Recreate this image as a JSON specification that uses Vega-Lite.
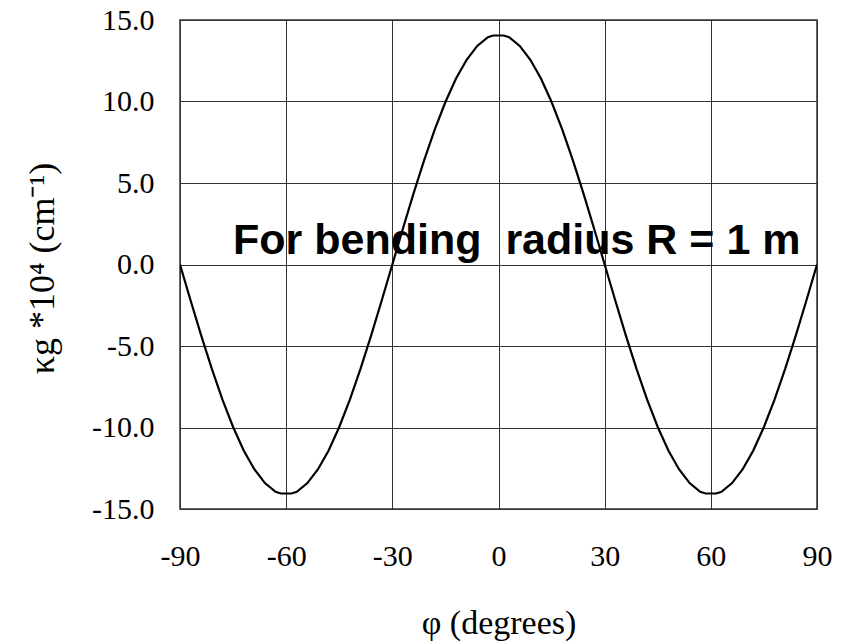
{
  "$schema": "https://vega.github.io/schema/vega-lite/v6.json",
  "autosize": "none",
  "width": 637,
  "height": 489,
  "padding": {"left": 180, "top": 20, "right": 29, "bottom": 135},
  "background": "white",
  "config": {
    "locale": {"number": {"decimal": ".", "thousands": ",", "grouping": [3], "currency": ["$", ""], "minus": "-"}},
    "view": {"stroke": "#333333", "strokeWidth": 1.5},
    "axis": {"labelFont": "Liberation Serif", "titleFont": "Liberation Serif", "labelColor": "black", "titleColor": "black", "gridColor": "#333333", "gridOpacity": 1, "gridWidth": 1, "domain": false, "ticks": false}
  },
  "datasets": {
    "curve": [
      {"phi": -90, "k": 0}, {"phi": -87, "k": -2.21}, {"phi": -84, "k": -4.36}, {"phi": -81, "k": -6.4}, {"phi": -78, "k": -8.29},
      {"phi": -75, "k": -9.97}, {"phi": -72, "k": -11.41}, {"phi": -69, "k": -12.56}, {"phi": -66, "k": -13.41}, {"phi": -63, "k": -13.95},
      {"phi": -61.5, "k": -14.05}, {"phi": -58.5, "k": -14.05}, {"phi": -57, "k": -13.95}, {"phi": -54, "k": -13.41}, {"phi": -51, "k": -12.56},
      {"phi": -48, "k": -11.41}, {"phi": -45, "k": -9.97}, {"phi": -42, "k": -8.29}, {"phi": -39, "k": -6.4}, {"phi": -36, "k": -4.36},
      {"phi": -33, "k": -2.21}, {"phi": -30, "k": 0}, {"phi": -27, "k": 2.21}, {"phi": -24, "k": 4.36}, {"phi": -21, "k": 6.4},
      {"phi": -18, "k": 8.29}, {"phi": -15, "k": 9.97}, {"phi": -12, "k": 11.41}, {"phi": -9, "k": 12.56}, {"phi": -6, "k": 13.41},
      {"phi": -3, "k": 13.95}, {"phi": -1.5, "k": 14.05}, {"phi": 1.5, "k": 14.05}, {"phi": 3, "k": 13.95}, {"phi": 6, "k": 13.41},
      {"phi": 9, "k": 12.56}, {"phi": 12, "k": 11.41}, {"phi": 15, "k": 9.97}, {"phi": 18, "k": 8.29}, {"phi": 21, "k": 6.4},
      {"phi": 24, "k": 4.36}, {"phi": 27, "k": 2.21}, {"phi": 30, "k": 0}, {"phi": 33, "k": -2.21}, {"phi": 36, "k": -4.36},
      {"phi": 39, "k": -6.4}, {"phi": 42, "k": -8.29}, {"phi": 45, "k": -9.97}, {"phi": 48, "k": -11.41}, {"phi": 51, "k": -12.56},
      {"phi": 54, "k": -13.41}, {"phi": 57, "k": -13.95}, {"phi": 58.5, "k": -14.05}, {"phi": 61.5, "k": -14.05}, {"phi": 63, "k": -13.95},
      {"phi": 66, "k": -13.41}, {"phi": 69, "k": -12.56}, {"phi": 72, "k": -11.41}, {"phi": 75, "k": -9.97}, {"phi": 78, "k": -8.29},
      {"phi": 81, "k": -6.4}, {"phi": 84, "k": -4.36}, {"phi": 87, "k": -2.21}, {"phi": 90, "k": 0}
    ],
    "note": [{"phi": -75, "k": 0.65, "label": "For bending\u00a0 radius R = 1 m"}]
  },
  "layer": [
    {
      "data": {"name": "curve"},
      "mark": {"type": "line", "color": "black", "strokeWidth": 2.2, "clip": true},
      "encoding": {
        "x": {"field": "phi", "type": "quantitative", "scale": {"domain": [-90, 90], "nice": false, "zero": false},
          "axis": {"values": [-90, -60, -30, 0, 30, 60, 90], "format": "d", "labelFontSize": 30, "labelPadding": 32, "labelFlush": false,
            "title": "φ (degrees)", "titleFontSize": 34, "titleFontWeight": "normal", "titleX": 318.5, "titleY": 114, "titleBaseline": "middle", "titleAnchor": null}},
        "y": {"field": "k", "type": "quantitative", "scale": {"domain": [-15, 15], "nice": false},
          "axis": {"values": [-15, -10, -5, 0, 5, 10, 15], "format": ".1f", "labelFontSize": 30, "labelPadding": 26, "labelFlush": false,
            "title": "κg *10⁴ (cm⁻¹)", "titleFontSize": 36, "titleFontWeight": "normal", "titleX": -138, "titleY": 248, "titleAngle": -90, "titleBaseline": "middle", "titleAlign": "center"}}
      }
    },
    {
      "data": {"name": "note"},
      "mark": {"type": "text", "font": "Liberation Sans", "fontWeight": "bold", "fontSize": 43, "align": "left", "baseline": "alphabetic", "color": "black"},
      "encoding": {
        "x": {"field": "phi", "type": "quantitative"},
        "y": {"field": "k", "type": "quantitative"},
        "text": {"field": "label"}
      }
    }
  ]
}
